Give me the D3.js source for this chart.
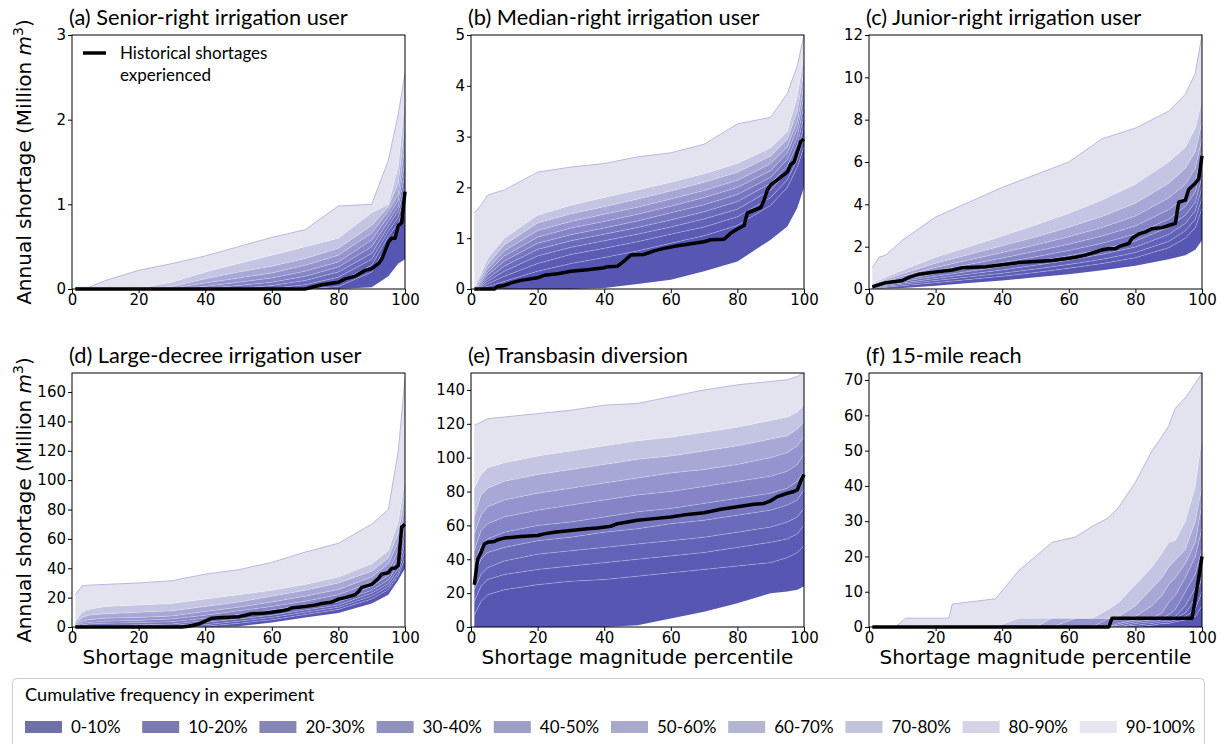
<!DOCTYPE html>
<html>
<head>
<meta charset="utf-8">
<script src="https://cdn.jsdelivr.net/npm/d3@7"></script>
<style>
  body { margin: 0; background: #fff; }
  .tick text { font-family: "DejaVu Sans", sans-serif; font-size: 15px; fill: #000; }
  .axlab { font-family: "DejaVu Sans", sans-serif; font-size: 20px; fill: #000; }
  .ttl { font-family: "Lato", sans-serif; font-size: 21.8px; fill: #000; }
  .leg { font-family: "Lato", sans-serif; fill: #000; }
</style>
</head>
<body>
<div id="chart"></div>
<script>
// shortage magnitude percentile grid used for the quantile curves
var gridX = [1, 3, 5, 10, 20, 30, 40, 50, 60, 70, 80, 90, 95, 98, 100];
var gridXF = [1, 8, 11, 24, 25, 38, 45, 50, 55, 62, 67, 72, 75, 80, 85, 88, 90, 92, 95, 98, 100];

// quantile curves across the experiment: min, p10 ... p90, max
var seniorQ = [
  [0, 0, 0, 0, 0, 0, 0, 0, 0, 0, 0, 0.02, 0.15, 0.3, 0.35],
  [0, 0, 0, 0, 0, 0, 0, 0, 0, 0, 0.03, 0.2, 0.55, 0.7, 0.9],
  [0, 0, 0, 0, 0, 0, 0, 0, 0, 0.02, 0.08, 0.28, 0.62, 0.78, 1.0],
  [0, 0, 0, 0, 0, 0, 0, 0, 0.01, 0.05, 0.14, 0.35, 0.68, 0.85, 1.1],
  [0, 0, 0, 0, 0, 0, 0, 0.01, 0.04, 0.1, 0.2, 0.42, 0.74, 0.92, 1.2],
  [0, 0, 0, 0, 0, 0, 0.01, 0.04, 0.08, 0.15, 0.26, 0.5, 0.8, 0.98, 1.35],
  [0, 0, 0, 0, 0, 0, 0.03, 0.08, 0.13, 0.21, 0.32, 0.58, 0.86, 1.05, 1.5],
  [0, 0, 0, 0, 0, 0.01, 0.07, 0.13, 0.19, 0.28, 0.4, 0.66, 0.92, 1.12, 1.7],
  [0, 0, 0, 0, 0, 0.03, 0.12, 0.2, 0.27, 0.36, 0.48, 0.75, 0.97, 1.25, 1.95],
  [0, 0, 0, 0, 0.01, 0.08, 0.2, 0.3, 0.4, 0.5, 0.6, 0.9, 1.0, 1.45, 2.25],
  [0.02, 0.02, 0.02, 0.1, 0.22, 0.3, 0.39, 0.5, 0.61, 0.7, 0.98, 1.0, 1.52, 2.07, 2.55]
];
var medianQ = [
  [0, 0, 0, 0, 0, 0, 0.02, 0.1, 0.18, 0.35, 0.54, 0.97, 1.23, 1.6, 2.0],
  [0, 0.02, 0.05, 0.15, 0.35, 0.5, 0.62, 0.75, 0.9, 1.05, 1.25, 1.65, 2.0, 2.4, 2.8],
  [0, 0.04, 0.1, 0.25, 0.5, 0.68, 0.8, 0.93, 1.08, 1.22, 1.42, 1.8, 2.15, 2.55, 3.0],
  [0, 0.06, 0.15, 0.35, 0.65, 0.82, 0.95, 1.08, 1.22, 1.38, 1.57, 1.95, 2.3, 2.7, 3.2],
  [0, 0.08, 0.2, 0.45, 0.78, 0.95, 1.08, 1.21, 1.36, 1.52, 1.72, 2.08, 2.42, 2.85, 3.4],
  [0, 0.11, 0.27, 0.55, 0.9, 1.07, 1.2, 1.34, 1.5, 1.66, 1.86, 2.2, 2.55, 3.0, 3.6],
  [0, 0.14, 0.33, 0.65, 1.02, 1.2, 1.33, 1.47, 1.63, 1.8, 2.0, 2.33, 2.68, 3.15, 3.8],
  [0, 0.18, 0.4, 0.75, 1.15, 1.33, 1.47, 1.61, 1.77, 1.94, 2.14, 2.47, 2.8, 3.3, 4.0],
  [0.02, 0.23, 0.48, 0.87, 1.3, 1.48, 1.62, 1.77, 1.93, 2.1, 2.3, 2.62, 2.95, 3.5, 4.3],
  [0.05, 0.3, 0.6, 1.0, 1.45, 1.65, 1.8, 1.95, 2.1, 2.27, 2.47, 2.78, 3.1, 3.8, 4.6],
  [1.5, 1.65, 1.85, 1.95, 2.3, 2.4, 2.47, 2.6, 2.68, 2.85, 3.25, 3.38, 3.85, 4.4, 5.0]
];
var juniorQ = [
  [0, 0.01, 0.02, 0.05, 0.15, 0.28, 0.4, 0.55, 0.7, 0.88, 1.1, 1.4, 1.6, 1.85, 2.3],
  [0.02, 0.05, 0.08, 0.15, 0.3, 0.45, 0.6, 0.78, 0.98, 1.2, 1.48, 1.95, 2.4, 2.9, 3.8],
  [0.04, 0.08, 0.12, 0.22, 0.4, 0.57, 0.74, 0.94, 1.16, 1.4, 1.72, 2.25, 2.75, 3.3, 4.3],
  [0.06, 0.11, 0.16, 0.28, 0.5, 0.7, 0.9, 1.12, 1.36, 1.64, 1.98, 2.58, 3.1, 3.7, 4.8],
  [0.08, 0.14, 0.2, 0.35, 0.6, 0.83, 1.06, 1.3, 1.57, 1.88, 2.27, 2.92, 3.48, 4.1, 5.3],
  [0.1, 0.17, 0.25, 0.42, 0.72, 0.98, 1.24, 1.52, 1.82, 2.16, 2.6, 3.3, 3.9, 4.6, 5.8],
  [0.13, 0.21, 0.3, 0.5, 0.86, 1.16, 1.46, 1.78, 2.12, 2.5, 2.98, 3.75, 4.35, 5.1, 6.4],
  [0.16, 0.26, 0.37, 0.6, 1.02, 1.37, 1.72, 2.08, 2.47, 2.9, 3.45, 4.3, 4.95, 5.7, 7.1],
  [0.2, 0.32, 0.45, 0.72, 1.22, 1.63, 2.04, 2.46, 2.92, 3.43, 4.05, 5.0, 5.7, 6.5, 7.9],
  [0.25, 0.4, 0.55, 0.88, 1.5, 2.0, 2.5, 3.02, 3.58, 4.2, 4.95, 6.0, 6.7, 7.6, 8.9],
  [1.0, 1.5, 1.6, 2.3, 3.4, 4.1, 4.8, 5.4, 6.0, 7.1, 7.6, 8.4, 9.2, 10.2, 12.0]
];
var largeQ = [
  [0, 0, 0, 0, 0, 0, 0, 0.5, 3, 6.5, 9.5, 16, 22, 32, 40],
  [0, 0, 0, 0, 0, 0, 0.5, 2.5, 5, 8.5, 12, 19, 25.5, 35, 47],
  [0, 0, 0, 0, 0, 0, 1.5, 4, 6.5, 10, 13.5, 21, 27.5, 37, 52],
  [0, 0.3, 0.5, 0.5, 0.5, 1, 3, 5.5, 8, 11.5, 15, 23, 29.5, 40, 57],
  [0, 0.7, 1, 1, 1.5, 2, 4.5, 7, 9.5, 13, 17, 25, 32, 43, 62],
  [0, 1.5, 2, 2.5, 3, 3.5, 6, 8.5, 11.5, 15, 19, 27.5, 35, 47, 68],
  [0.5, 2.5, 3, 4, 4.5, 5.5, 8, 11, 14, 17.5, 22, 30.5, 38, 52, 74],
  [1, 4, 5, 6, 6.5, 7.5, 10.5, 13.5, 17, 21, 25.5, 34, 43, 58, 82],
  [2, 6.5, 8, 9, 10, 11, 14, 17, 21, 25, 30, 38, 47, 64, 90],
  [4, 10, 12, 14, 15, 16, 19, 22, 25, 29, 34, 43, 52, 72, 100],
  [22, 28, 28.5, 29, 30, 31.5, 36, 39, 44, 51, 57, 70, 80, 120, 170]
];
var transbasinQ = [
  [0, 0, 0, 0, 0, 0, 0, 1, 5, 9, 14, 20, 21, 22, 24],
  [7, 15, 19, 22, 25, 27, 28, 30, 32, 34, 36, 38, 41, 44, 48],
  [15, 24, 28, 31, 34, 36, 38, 40, 42, 44, 47, 50, 52, 55, 60],
  [22, 31, 35, 39, 43, 45, 47, 49, 51, 53, 56, 59, 62, 65, 70],
  [30, 40, 44, 47, 51, 53, 56, 58, 61, 63, 66, 69, 72, 75, 81],
  [37, 48, 52, 56, 60, 62, 65, 68, 70, 73, 76, 79, 82, 86, 92],
  [45, 57, 61, 65, 69, 72, 75, 78, 80, 83, 86, 89, 92, 96, 102],
  [55, 66, 71, 75, 79, 82, 85, 88, 91, 93, 96, 100, 103, 107, 112],
  [65, 78, 82, 86, 90, 93, 96, 99, 101, 104, 107, 111, 113, 117, 121],
  [82, 90, 94, 97, 101, 104, 107, 110, 112, 115, 118, 122, 124, 127, 131],
  [119, 121, 123, 124, 126, 128, 131, 132, 136, 140, 143, 145, 146, 148, 150]
];
var reachQ = [
  [0, 0, 0, 0, 0, 0, 0, 0, 0, 0, 0, 0, 0, 0, 0, 0, 0, 0, 0, 0, 0],
  [0, 0, 0, 0, 0, 0, 0, 0, 0, 0, 0, 0, 0, 0, 0.5, 1, 1, 1.5, 2, 3, 6],
  [0, 0, 0, 0, 0, 0, 0, 0, 0, 0, 0, 0, 0, 0.5, 1, 1.5, 1.5, 2, 3, 5, 10],
  [0, 0, 0, 0, 0, 0, 0, 0, 0, 0, 0, 0, 0, 1, 1.5, 2, 2, 2.5, 4, 8, 14],
  [0, 0, 0, 0, 0, 0, 0, 0, 0, 0, 0, 0, 0.5, 1.5, 2, 2.5, 2.5, 3, 6, 11, 18],
  [0, 0, 0, 0, 0, 0, 0, 0, 0, 0, 0, 0, 1, 2, 2.5, 2.5, 3.5, 5, 10, 15, 22],
  [0, 0, 0, 0, 0, 0, 0, 0, 0, 0, 0, 2.5, 2.5, 2.5, 2.5, 4, 7, 9, 14, 20, 28],
  [0, 0, 0, 0, 0, 0, 0, 0, 0, 2.5, 2.5, 2.5, 2.5, 3, 6, 9, 12, 14, 18, 24, 35],
  [0, 0, 0, 0, 0, 0, 0, 0, 2.5, 2.5, 2.5, 2.5, 3, 6, 11, 14, 17, 19, 22, 30, 40],
  [0, 0, 0, 0, 0, 0, 2.5, 2.5, 2.5, 2.5, 2.5, 5, 7, 12, 17, 21, 24, 24.5, 30, 40, 54],
  [0, 0, 2.5, 2.5, 6.5, 8, 16, 20, 24, 25.5, 28.5, 31, 34, 41, 50, 54, 57, 62, 65, 69, 72]
];

// historical shortages experienced (percentile, value)
var seniorHistX = [1, 70, 72, 75, 80, 82, 85, 88, 90, 92, 93, 95, 96, 97, 98, 99, 100];
var seniorHistY = [0, 0, 0.02, 0.05, 0.08, 0.12, 0.15, 0.22, 0.24, 0.3, 0.35, 0.55, 0.6, 0.6, 0.75, 0.78, 1.15];
var medianHistX = [1, 7, 8, 10, 12, 15, 20, 22, 26, 30, 35, 40, 41, 44, 46, 48, 52, 55, 58, 62, 65, 70, 72, 76, 78, 80, 82, 83, 85, 87, 88, 89, 90, 92, 94, 95, 96, 97, 98, 99, 100];
var medianHistY = [0, 0, 0.05, 0.07, 0.12, 0.17, 0.22, 0.27, 0.3, 0.35, 0.38, 0.42, 0.44, 0.45, 0.55, 0.67, 0.68, 0.75, 0.8, 0.85, 0.88, 0.93, 0.97, 0.98, 1.1, 1.18, 1.25, 1.5, 1.55, 1.6, 1.75, 1.95, 2.05, 2.15, 2.25, 2.3, 2.45, 2.5, 2.7, 2.9, 2.95];
var juniorHistX = [1, 3, 5, 8, 10, 12, 15, 20, 25, 28, 35, 40, 45, 50, 55, 60, 62, 65, 68, 70, 72, 74, 75, 78, 79, 81, 83, 85, 88, 90, 92, 93, 95, 96, 98, 99, 100];
var juniorHistY = [0.1, 0.2, 0.3, 0.35, 0.4, 0.55, 0.7, 0.8, 0.9, 1.0, 1.05, 1.15, 1.25, 1.3, 1.35, 1.45, 1.5, 1.6, 1.75, 1.85, 1.9, 1.9, 2.0, 2.15, 2.4, 2.6, 2.7, 2.85, 2.9, 3.0, 3.1, 4.1, 4.2, 4.7, 5.0, 5.2, 6.3];
var largeHistX = [1, 33, 35, 38, 40, 42, 45, 50, 52, 54, 58, 60, 63, 65, 66, 70, 73, 75, 78, 80, 82, 85, 86, 87, 90, 92, 93, 95, 96, 97, 98, 99, 100];
var largeHistY = [0, 0, 0.5, 2, 4, 6, 6.5, 7, 8, 9, 9.5, 10, 11, 12, 13, 14, 15, 16, 17, 19, 20, 22, 24, 27, 29, 33, 36, 37, 40, 40, 42, 68, 70];
var transbasinHistX = [1, 2, 3, 4, 5, 7, 8, 10, 15, 20, 22, 25, 30, 35, 38, 42, 44, 47, 50, 55, 60, 65, 70, 75, 80, 85, 88, 90, 92, 95, 97, 98, 99, 100];
var transbasinHistY = [25, 40, 44, 49, 50, 50.5, 51.5, 52.5, 53.5, 54, 55, 56, 57, 58, 58.5, 59.5, 61, 62, 63, 64, 65, 66.5, 67.5, 69.5, 71, 72.5, 73, 74.5, 77, 79, 80, 81, 86, 90];
var reachHistX = [1, 72, 73, 97, 98, 99, 100];
var reachHistY = [0, 0, 2.5, 2.5, 8, 14, 20];

var panelTitles = ["(a) Senior-right irrigation user", "(b) Median-right irrigation user",
  "(c) Junior-right irrigation user", "(d) Large-decree irrigation user",
  "(e) Transbasin diversion", "(f) 15-mile reach"];
var yMaxes = [3, 5, 12, 173, 150, 72];
var yTickVals = [[0, 1, 2, 3], [0, 1, 2, 3, 4, 5], [0, 2, 4, 6, 8, 10, 12],
  [0, 20, 40, 60, 80, 100, 120, 140, 160], [0, 20, 40, 60, 80, 100, 120, 140],
  [0, 10, 20, 30, 40, 50, 60, 70]];
var xTickVals = [0, 20, 40, 60, 80, 100];
var legendLabels = ["0-10%", "10-20%", "20-30%", "30-40%", "40-50%", "50-60%", "60-70%", "70-80%", "80-90%", "90-100%"];

// colours
var bandColors = ["#5757b3", "#5b5bb5", "#6262b8", "#6b6bbc", "#7777c1", "#8484c7", "#9494ce", "#a8a8d7", "#c4c4e3", "#e3e3f0"];
var swatchColors = ["#7070a9", "#7a7aaf", "#8585b6", "#9191bd", "#9d9dc5", "#a9a9cc", "#b4b4d3", "#c3c3dc", "#d4d4e6", "#e7e7f1"];

var panels = [
  { q: seniorQ, gx: gridX, hx: seniorHistX, hy: seniorHistY },
  { q: medianQ, gx: gridX, hx: medianHistX, hy: medianHistY },
  { q: juniorQ, gx: gridX, hx: juniorHistX, hy: juniorHistY },
  { q: largeQ, gx: gridX, hx: largeHistX, hy: largeHistY },
  { q: transbasinQ, gx: gridX, hx: transbasinHistX, hy: transbasinHistY },
  { q: reachQ, gx: gridXF, hx: reachHistX, hy: reachHistY }
];

var width = 1225, height = 744;
var colLeft = [72, 471, 869];
var rowTop = [35, 373];
var pw = 333, ph = 254;

var svg = d3.select("#chart").append("svg")
  .attr("width", width).attr("height", height);

panels.forEach(function (p, i) {
  var col = i % 3, row = Math.floor(i / 3);
  var g = svg.append("g")
    .attr("transform", "translate(" + colLeft[col] + "," + rowTop[row] + ")");

  var x = d3.scaleLinear().domain([0, 100]).range([0, pw]);
  var y = d3.scaleLinear().domain([0, yMaxes[i]]).range([ph, 0]);

  g.append("clipPath").attr("id", "clip" + i)
    .append("rect").attr("width", pw).attr("height", ph);
  var plot = g.append("g").attr("clip-path", "url(#clip" + i + ")");

  // bands between consecutive quantile curves
  for (var b = 0; b < 10; b++) {
    var lo = p.q[b], hi = p.q[b + 1];
    var area = d3.area()
      .x(function (d, k) { return x(p.gx[k]); })
      .y0(function (d, k) { return y(lo[k]); })
      .y1(function (d, k) { return y(hi[k]); });
    plot.append("path").datum(p.gx).attr("d", area).attr("fill", bandColors[b]);
  }
  // thin boundary lines
  for (var c = 1; c < 10; c++) {
    var qc = p.q[c];
    var ln = d3.line()
      .x(function (d, k) { return x(p.gx[k]); })
      .y(function (d, k) { return y(qc[k]); });
    plot.append("path").datum(p.gx).attr("d", ln)
      .attr("fill", "none").attr("stroke", "#ffffff")
      .attr("stroke-opacity", 0.25).attr("stroke-width", 1);
  }
  var qmax = p.q[10];
  plot.append("path").datum(p.gx)
    .attr("d", d3.line().x(function (d, k) { return x(p.gx[k]); }).y(function (d, k) { return y(qmax[k]); }))
    .attr("fill", "none").attr("stroke", "#b8b8e0").attr("stroke-width", 1);

  // historical line
  g.append("path").datum(p.hx)
    .attr("d", d3.line().x(function (d) { return x(d); }).y(function (d, k) { return y(p.hy[k]); }))
    .attr("fill", "none").attr("stroke", "#000").attr("stroke-width", 3.5)
    .attr("stroke-linejoin", "round");

  // axes
  g.append("g").attr("transform", "translate(0," + ph + ")")
    .call(d3.axisBottom(x).tickValues(xTickVals).tickSize(4).tickPadding(1).tickFormat(d3.format("d")))
    .call(function (a) { a.select(".domain").remove(); });
  g.append("g")
    .call(d3.axisLeft(y).tickValues(yTickVals[i]).tickSize(4).tickPadding(2).tickFormat(d3.format("d")))
    .call(function (a) { a.select(".domain").remove(); });
  g.append("rect").attr("width", pw).attr("height", ph)
    .attr("fill", "none").attr("stroke", "#000").attr("stroke-width", 1);

  // title
  g.append("text").attr("class", "ttl")
    .attr("x", -3).attr("y", -10)
    .text(panelTitles[i]);

  if (col === 0) {
    g.append("text").attr("class", "axlab")
      .attr("transform", "translate(" + (-41) + "," + (ph / 2) + ")rotate(-90)")
      .attr("text-anchor", "middle")
      .html("Annual shortage (Million <tspan font-style='italic'>m</tspan><tspan dy='-8' font-size='14px'>3</tspan><tspan dy='8'>)</tspan>");
  }
  if (row === 1) {
    g.append("text").attr("class", "axlab")
      .attr("x", pw / 2).attr("y", ph + 37)
      .attr("text-anchor", "middle")
      .text("Shortage magnitude percentile");
  }
  if (i === 0) {
    g.append("line").attr("x1", 11).attr("x2", 34).attr("y1", 18).attr("y2", 18)
      .attr("stroke", "#000").attr("stroke-width", 3.5);
    g.append("text").attr("class", "leg").attr("x", 48).attr("y", 24)
      .style("font-size", "17px").text("Historical shortages");
    g.append("text").attr("class", "leg").attr("x", 48).attr("y", 46)
      .style("font-size", "17px").text("experienced");
  }
});

// bottom legend
var legend = svg.append("g");
legend.append("rect").attr("x", 12.5).attr("y", 678.5).attr("width", 1192).attr("height", 80)
  .attr("rx", 4).attr("fill", "#fff").attr("stroke", "#cccccc");
legend.append("text").attr("class", "leg").attr("x", 25).attr("y", 701)
  .style("font-size", "18.2px").text("Cumulative frequency in experiment");
legendLabels.forEach(function (lab, k) {
  var lx = 25 + k * 117.2;
  legend.append("rect").attr("x", lx).attr("y", 721).attr("width", 37).attr("height", 12)
    .attr("fill", swatchColors[k]);
  legend.append("text").attr("class", "leg").attr("x", lx + 46).attr("y", 733)
    .style("font-size", "17px").text(lab);
});
</script>
</body>
</html>
